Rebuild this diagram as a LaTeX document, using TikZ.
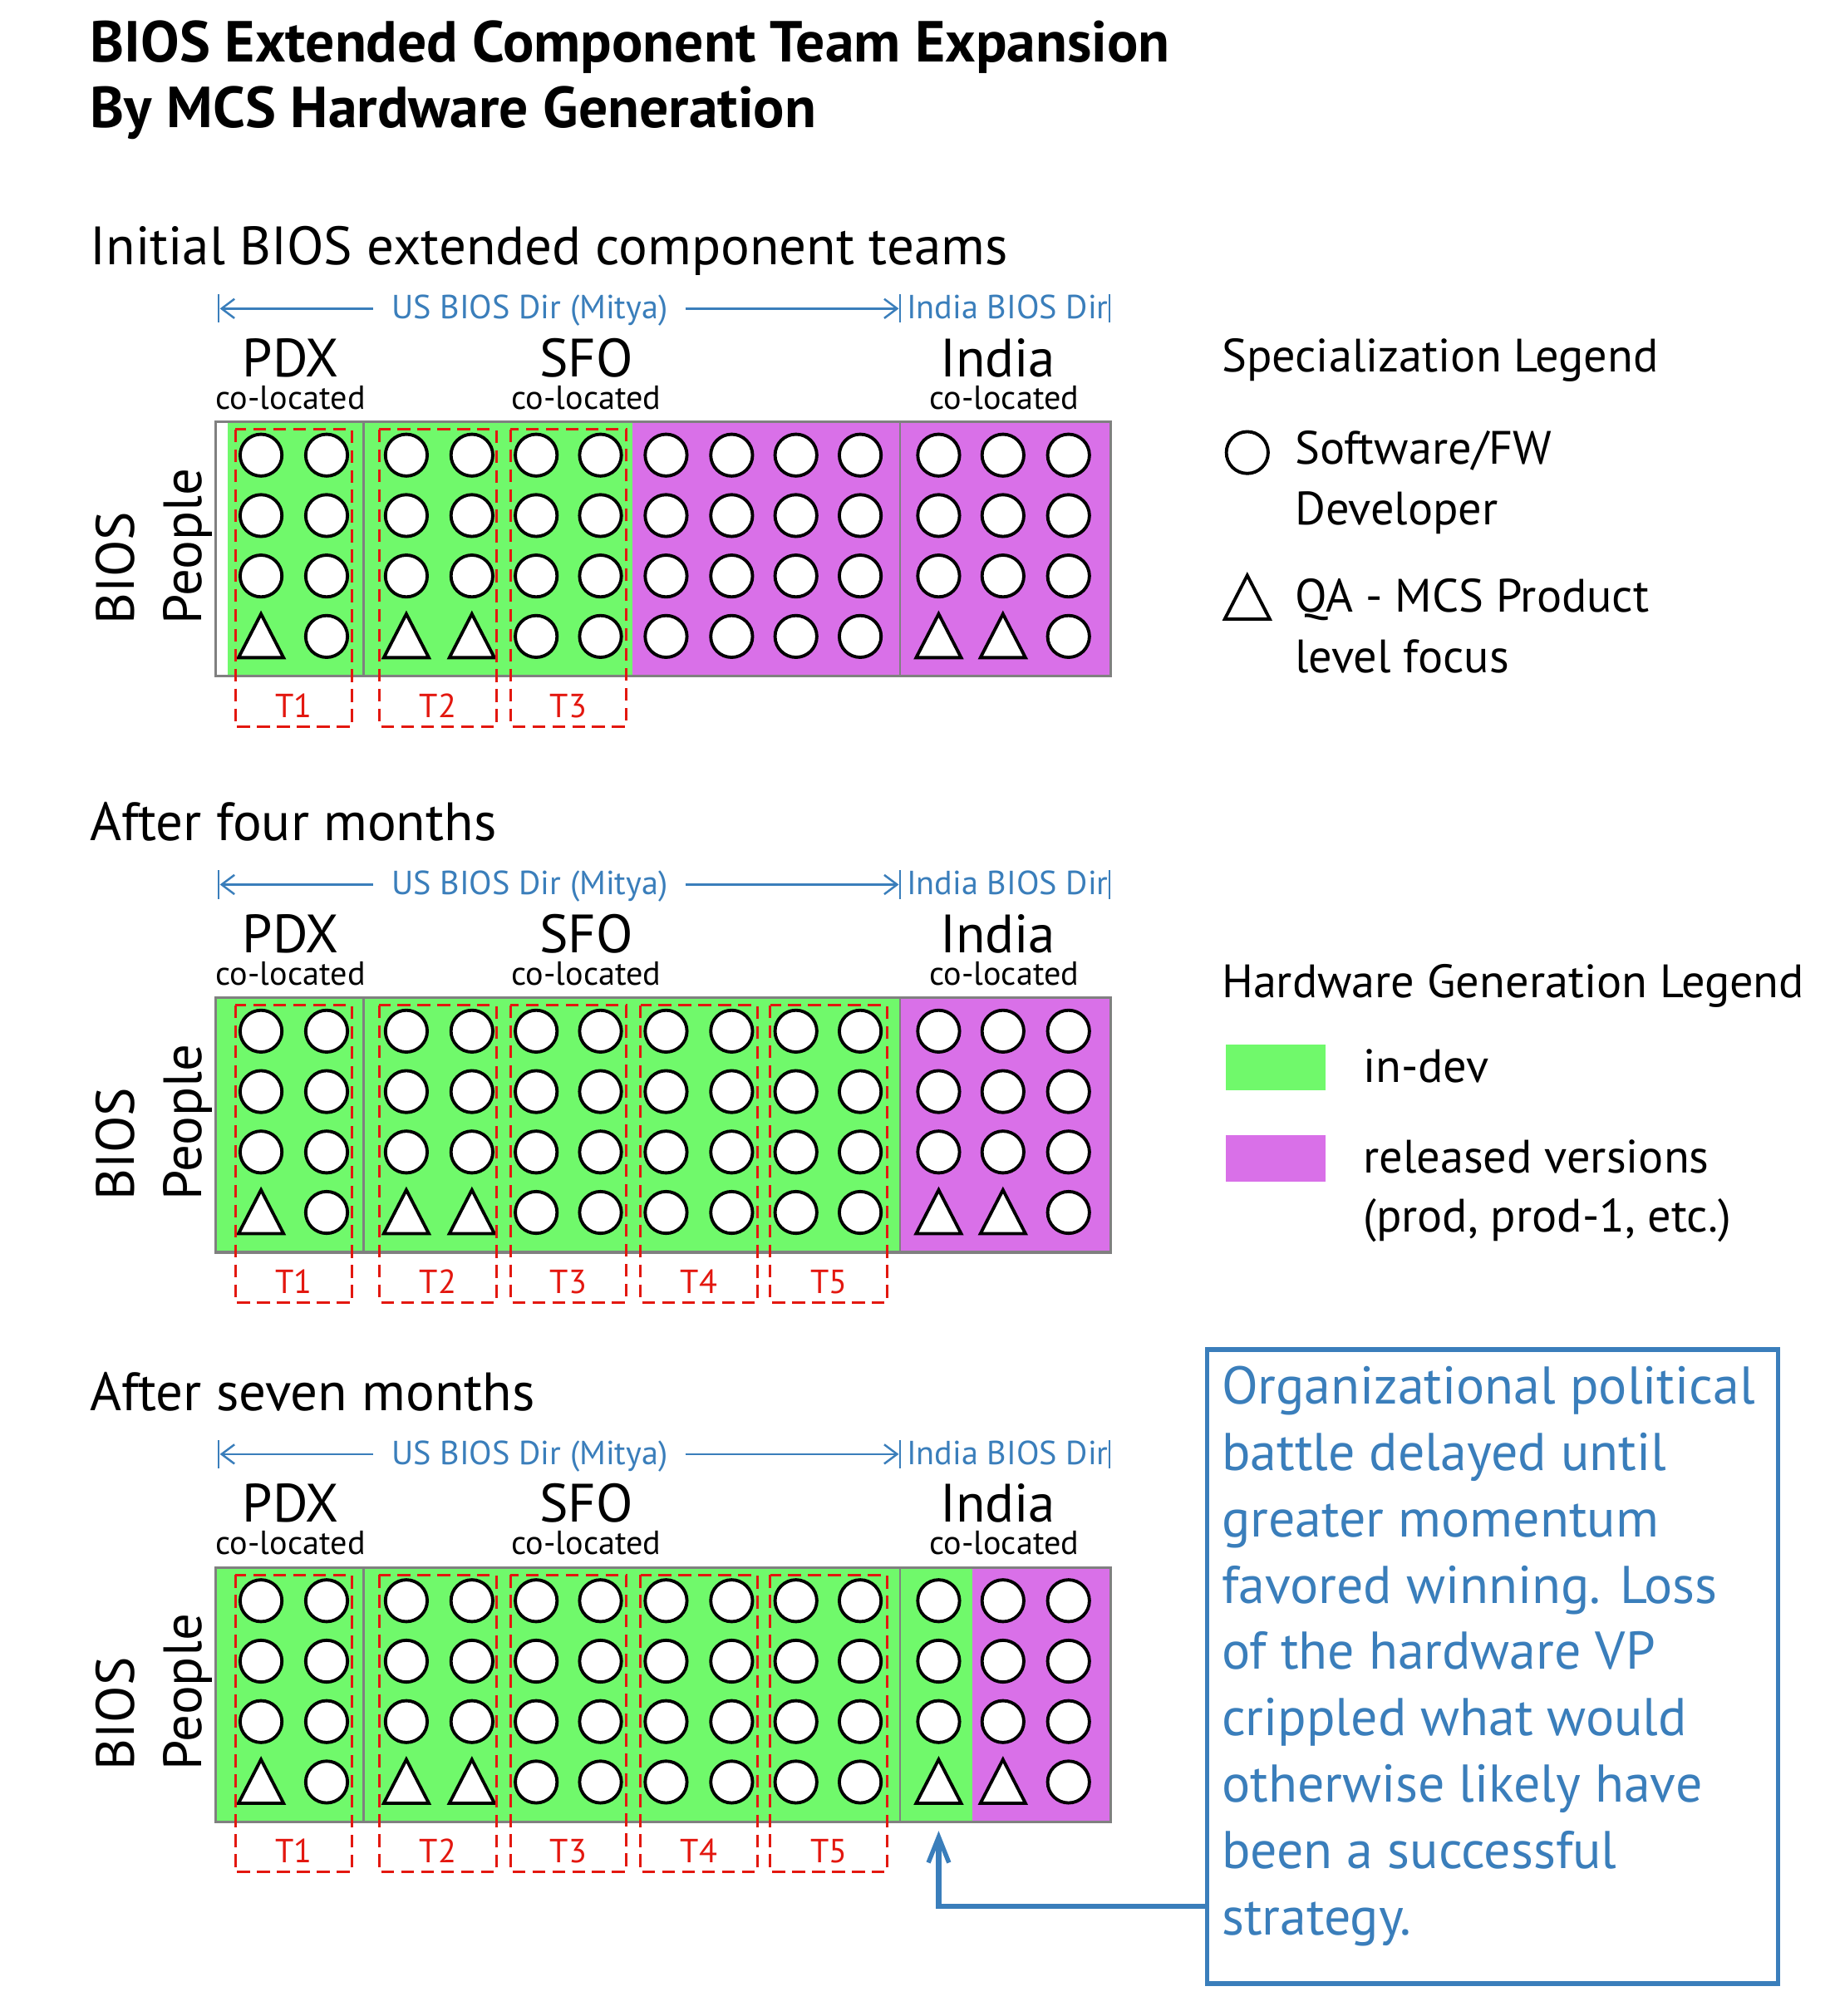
\documentclass[tikz,border=0pt]{standalone}
\usepackage{fontspec}
\setmainfont{PT Sans}
\usetikzlibrary{arrows.meta}
\definecolor{ingreen}{HTML}{70F96B}
\definecolor{relmag}{HTML}{D970E8}
\definecolor{dirblue}{HTML}{3A7EBB}
\definecolor{teamred}{HTML}{E3170F}
\definecolor{framegray}{HTML}{808080}
\newcommand\fsz[1]{\fontsize{#1pt}{#1pt}\selectfont}
\newcommand\qatri[2]{\draw[qa] ({#1-17.5},{#2+16.5}) -- (#1,{#2-17.5}) -- ({#1+17.5},{#2+16.5}) -- cycle;}
\tikzset{
 person/.style={circle,draw=black,fill=white,line width=2.5pt,minimum size=32.5pt,inner sep=0pt},
 qa/.style={draw=black,fill=white,line width=2.5pt,line join=miter},
 frame/.style={draw=framegray,line width=2pt},
 divider/.style={draw=framegray,line width=1.8pt},
 team/.style={draw=teamred,line width=1.9pt,dash pattern=on 10pt off 5.5pt},
 tlabel/.style={text=teamred,font=\fsz{26},anchor=base,inner sep=0pt},
 dirtext/.style={text=dirblue,font=\fsz{26},anchor=base,inner sep=0pt},
 dirarrow/.style={draw=dirblue,line width=1.6pt,-{Straight Barb[length=10pt,width=15pt,line width=1.6pt]}},
 dirtick/.style={draw=dirblue,line width=1.6pt},
 city/.style={font=\fsz{42},anchor=base,inner sep=0pt},
 coloc/.style={font=\fsz{26},anchor=base,inner sep=0pt},
 sectitle/.style={font=\fsz{42},anchor=base west,inner sep=0pt},
 sidelabel/.style={font=\fsz{42},anchor=base west,rotate=90,inner sep=0pt},
 maintitle/.style={font=\bfseries\fsz{45},anchor=base west,inner sep=0pt},
 legtitle/.style={font=\fsz{36.4},anchor=base west,inner sep=0pt},
 legtext/.style={font=\fsz{36.4},anchor=base west,inner sep=0pt},
 calltext/.style={text=dirblue,font=\fsz{41.3},anchor=base west,inner sep=0pt},
 callbox/.style={draw=dirblue,line width=3.5pt,minimum width=444pt,minimum height=493pt,anchor=north west,inner sep=0pt},
 callarrow/.style={draw=dirblue,line width=4pt,-{Straight Barb[length=20pt,width=16pt,line width=3.5pt]}},
 swatch/.style={minimum width=78pt,minimum height=36pt,anchor=north west,inner sep=0pt}
}
% #1 top y, #2 green start, #3 green end, #4 team list, #5 prefix, #6 title
\newcommand\teamsec[6]{%
\begin{scope}[shift={(0,#1)}]
\node[sectitle] (#5-title) at (70,-122) {#6};
\coordinate (#5-lt) at (171,-88);
\coordinate (#5-rt) at (699,-88);
\coordinate (#5-ls) at (290,-88);
\coordinate (#5-rs) at (533,-88);
\node[dirtext] (#5-us) at (412,-80) {US BIOS Dir (Mitya)};
\node[dirtext,anchor=base west] (#5-in) at (705,-80) {India BIOS Dir};
\draw[dirtick] (170,-99) -- (170,-77);
\draw[dirtick] (700,-99) -- (700,-77);
\draw[dirtick] (863,-99) -- (863,-77);
\draw[dirarrow] (#5-ls) -- (#5-lt);
\draw[dirarrow] (#5-rs) -- (#5-rt);
\node[city] (#5-pdx) at (226,-35) {PDX};
\node[city] (#5-sfo) at (456,-35) {SFO};
\node[city] (#5-ind) at (776,-35) {India};
\node[coloc] (#5-pdxc) at (226,-10) {co-located};
\node[coloc] (#5-sfoc) at (456,-10) {co-located};
\node[coloc] (#5-indc) at (781,-10) {co-located};
\node[sidelabel] (#5-bios) at (104.5,158) {BIOS};
\node[sidelabel] (#5-ppl) at (156.5,158) {People};
\fill[white] (168,0) rectangle (864,198);
\fill[ingreen] (#2,0) rectangle (#3,198);
\fill[relmag] (#3,0) rectangle (864,198);
\draw[divider] (283,0) -- (283,198);
\draw[divider] (700,0) -- (700,198);
\draw[frame] (168,0) rectangle (864,198);
\foreach \x [count=\i] in {203,254,316,367,417,467,518,569,619,669,730,780,831}{
  \foreach \y [count=\j] in {26,73,120}{\node[person] (#5-p\i-\j) at (\x,\y) {};}}
\foreach \x [count=\i] in {254,417,467,518,569,619,669,831}{\node[person] (#5-q\i) at (\x,167) {};}
\foreach \x in {203,316,367,730,780}{\qatri{\x}{167}}
\foreach \a/\b/\t in {#4}{
  \draw[team] (\a,6) rectangle (\b,237);
  \node[tlabel] (#5-\t) at ({(\a+\b)/2},230) {\t};}
\end{scope}}

\begin{document}
\begin{tikzpicture}[x=1pt,y=-1pt]
\useasboundingbox (0,0) rectangle (1427,1568);
\fill[white] (0,0) rectangle (1427,1568);
\node[maintitle] (t1) at (70,48) {BIOS Extended Component Team Expansion};
\node[maintitle] (t2) at (70,99) {By MCS Hardware Generation};

\teamsec{328}{177}{492}{183/274/T1,295/386/T2,397/487/T3}{a}{Initial BIOS extended component teams}
\teamsec{776}{168}{700}{183/274/T1,295/386/T2,397/487/T3,498/589/T4,599/690/T5}{b}{After four months}
\teamsec{1219}{168}{756}{183/274/T1,295/386/T2,397/487/T3,498/589/T4,599/690/T5}{c}{After seven months}

% specialization legend
\node[legtitle] (sl) at (950,289) {Specialization Legend};
\node[person] (lc) at (970,352) {};
\qatri{970}{465}
\node[legtext] (l1) at (1007,361) {Software/FW};
\node[legtext] (l2) at (1007,408) {Developer};
\node[legtext] (l3) at (1007,476) {QA - MCS Product};
\node[legtext] (l4) at (1007,523) {level focus};

% hardware legend
\node[legtitle] (hl) at (950,776) {Hardware Generation Legend};
\node[swatch,fill=ingreen] (sw1) at (953,812) {};
\node[swatch,fill=relmag] (sw2) at (953,883) {};
\node[legtext] (h1) at (1060,842) {in-dev};
\node[legtext] (h2) at (1060,912) {released versions};
\node[legtext] (h3) at (1060,958) {(prod, prod-1, etc.)};

% callout
\node[callbox] (callout) at (937,1048) {};
\foreach \t [count=\i] in {Organizational political,battle delayed until,greater momentum,favored winning. Loss,of the hardware VP,crippled what would,otherwise likely have,been a successful,strategy.}{
  \node[calltext] (cl\i) at (950,{1092+51.6*(\i-1)}) {\t};}
\coordinate (tip) at (730,1424);
\draw[callarrow] ([yshift=62pt]callout.south west) -| (tip);
\end{tikzpicture}
\end{document}
